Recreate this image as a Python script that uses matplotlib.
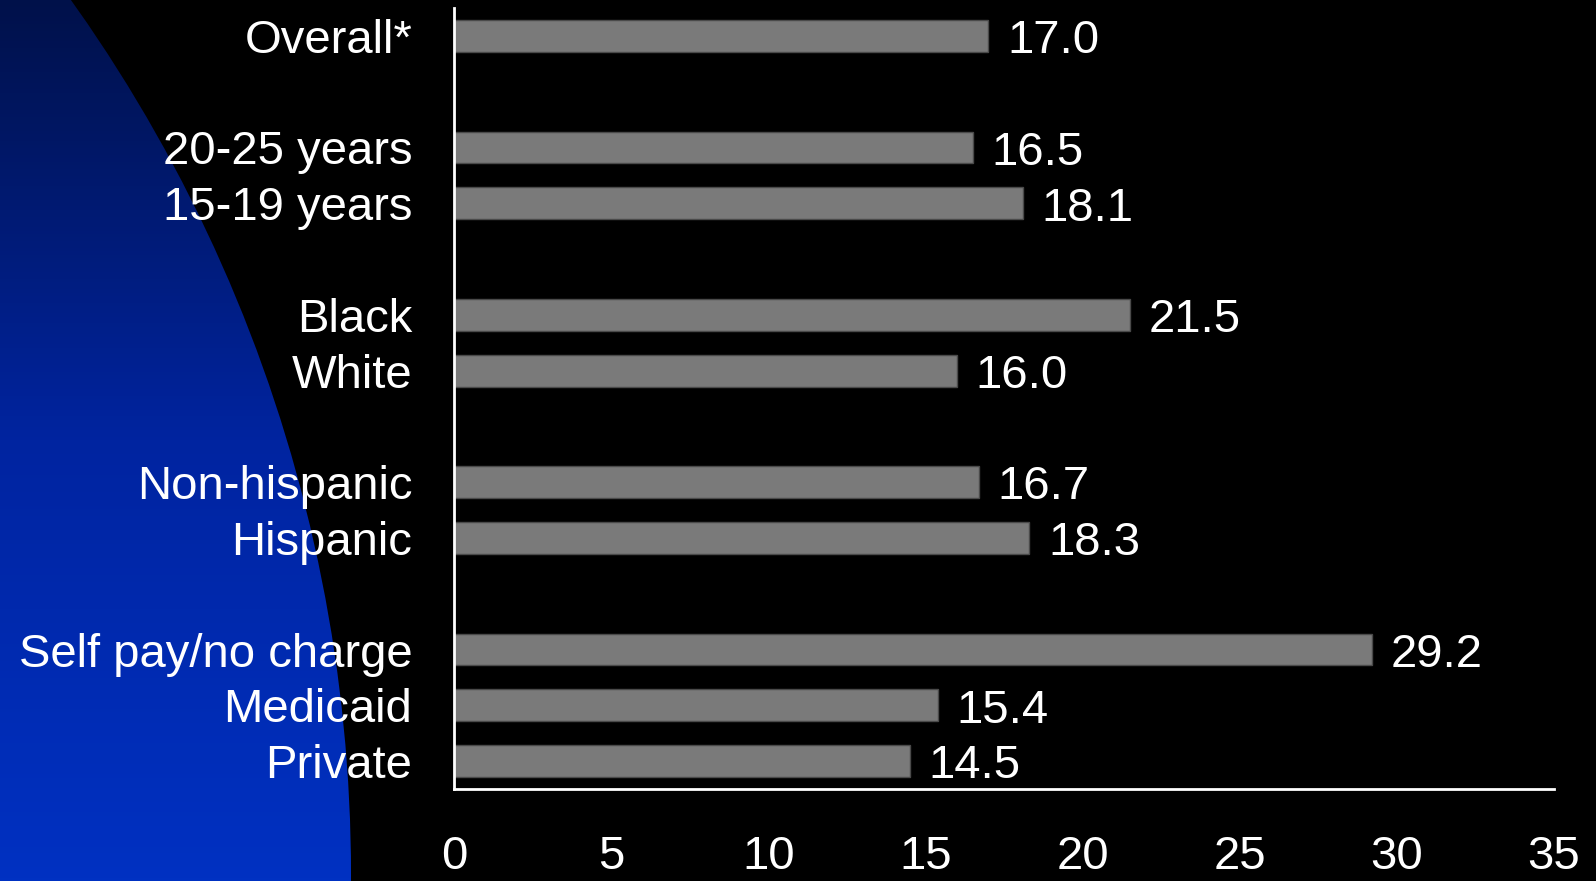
import numpy as np
import matplotlib
matplotlib.use("Agg")
import matplotlib.pyplot as plt
from matplotlib.patches import Circle
from matplotlib.colors import LinearSegmentedColormap

plt.rcParams["font.family"] = ["Liberation Sans", "DejaVu Sans"]

# categories top to bottom, with blank slots between groups
categories = [
    "Overall*",
    "",
    "20-25 years",
    "15-19 years",
    "",
    "Black",
    "White",
    "",
    "Non-hispanic",
    "Hispanic",
    "",
    "Self pay/no charge",
    "Medicaid",
    "Private",
]
values = [17.0, None, 16.5, 18.1, None, 21.5, 16.0, None, 16.7, 18.3, None, 29.2, 15.4, 14.5]
x_ticks = [0, 5, 10, 15, 20, 25, 30, 35]

W, H, DPI = 1596, 881, 100
FS = 34
fig = plt.figure(figsize=(W / DPI, H / DPI), dpi=DPI, facecolor="black")

# background: black with a big blue gradient disc on the left
bg = fig.add_axes([0, 0, 1, 1])
bg.set_xlim(0, W)
bg.set_ylim(H, 0)
bg.axis("off")
bg.set_facecolor("black")
cmap = LinearSegmentedColormap.from_list(
    "slide", ["#00114a", "#0024a0", "#0031c2"]
)
grad = np.linspace(0, 1, 256).reshape(-1, 1)
img = bg.imshow(grad, cmap=cmap, extent=(0, W, H, 0), aspect="auto", zorder=0)
disc = Circle((-1156, 875), 1507, transform=bg.transData, facecolor="none", edgecolor="none")
bg.add_patch(disc)
img.set_clip_path(disc)

# main bar chart
ax = fig.add_axes([454 / W, 1 - 789 / H, 1100 / W, 781 / H])
ax.set_facecolor("none")
pos = np.arange(len(categories))
for p, v in zip(pos, values):
    if v is None:
        continue
    ax.barh(p, v, height=0.57, color="#7a7a7a", edgecolor="#4a4a4a", linewidth=1)
    ax.text(v + 0.6, p + 0.31, f"{v:.1f}", color="white", fontsize=FS,
            va="baseline", ha="left")

ax.set_ylim(len(categories) - 0.5, -0.5)
ax.set_xlim(0, 35)
ax.set_yticks(pos)
ax.set_yticklabels(categories)
ax.set_xticks(x_ticks)
ax.set_xticklabels([str(t) for t in x_ticks])
ax.tick_params(axis="y", length=0, pad=30, labelsize=FS, labelcolor="white")
ax.tick_params(axis="x", length=0, pad=33, labelsize=FS, labelcolor="white")

for side in ("top", "right"):
    ax.spines[side].set_visible(False)
for side in ("left", "bottom"):
    ax.spines[side].set_color("white")
    ax.spines[side].set_linewidth(2)

fig.savefig("out.png", dpi=DPI, facecolor="black")
